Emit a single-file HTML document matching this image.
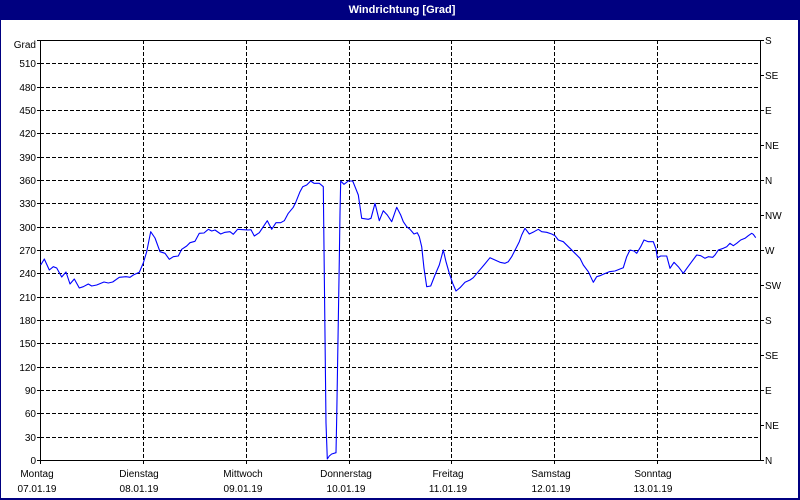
<!DOCTYPE html>
<html>
<head>
<meta charset="utf-8">
<style>
  html, body { margin:0; padding:0; width:800px; height:500px; overflow:hidden; background:#000080; }
  svg { display:block; }
  text { font-family: "Liberation Sans", "DejaVu Sans", sans-serif; font-size:10px; fill:#000; }
</style>
</head>
<body>
<svg width="800" height="500" viewBox="0 0 800 500" xmlns="http://www.w3.org/2000/svg">
  <rect x="0" y="0" width="800" height="500" fill="#000080"/>
  <rect x="1" y="20" width="797" height="478" fill="#ffffff"/>
  <text x="402" y="13" text-anchor="middle" style="font-size:11px;font-weight:bold;fill:#fff">Windrichtung [Grad]</text>

  <!-- horizontal grid -->
  <g stroke="#000" stroke-width="1" stroke-dasharray="4 2" shape-rendering="crispEdges">
    <line x1="40" y1="437.5" x2="760" y2="437.5"/>
    <line x1="40" y1="413.5" x2="760" y2="413.5"/>
    <line x1="40" y1="390.5" x2="760" y2="390.5"/>
    <line x1="40" y1="367.5" x2="760" y2="367.5"/>
    <line x1="40" y1="343.5" x2="760" y2="343.5"/>
    <line x1="40" y1="320.5" x2="760" y2="320.5"/>
    <line x1="40" y1="297.5" x2="760" y2="297.5"/>
    <line x1="40" y1="273.5" x2="760" y2="273.5"/>
    <line x1="40" y1="250.5" x2="760" y2="250.5"/>
    <line x1="40" y1="227.5" x2="760" y2="227.5"/>
    <line x1="40" y1="203.5" x2="760" y2="203.5"/>
    <line x1="40" y1="180.5" x2="760" y2="180.5"/>
    <line x1="40" y1="157.5" x2="760" y2="157.5"/>
    <line x1="40" y1="133.5" x2="760" y2="133.5"/>
    <line x1="40" y1="110.5" x2="760" y2="110.5"/>
    <line x1="40" y1="87.5" x2="760" y2="87.5"/>
    <line x1="40" y1="63.5" x2="760" y2="63.5"/>
  </g>
  <!-- vertical grid -->
  <g stroke="#000" stroke-width="1" stroke-dasharray="4 2" shape-rendering="crispEdges">
    <line x1="143.5" y1="40" x2="143.5" y2="460"/>
    <line x1="246.5" y1="40" x2="246.5" y2="460"/>
    <line x1="349.5" y1="40" x2="349.5" y2="460"/>
    <line x1="451.5" y1="40" x2="451.5" y2="460"/>
    <line x1="554.5" y1="40" x2="554.5" y2="460"/>
    <line x1="657.5" y1="40" x2="657.5" y2="460"/>
  </g>

  <!-- frame -->
  <rect x="40.5" y="40.5" width="720" height="420" fill="none" stroke="#000" stroke-width="1" shape-rendering="crispEdges"/>

  <!-- ticks -->
  <g stroke="#000" stroke-width="1" shape-rendering="crispEdges">
    <line x1="37" y1="460.5" x2="40" y2="460.5"/>
    <line x1="37" y1="437.5" x2="40" y2="437.5"/>
    <line x1="37" y1="413.5" x2="40" y2="413.5"/>
    <line x1="37" y1="390.5" x2="40" y2="390.5"/>
    <line x1="37" y1="367.5" x2="40" y2="367.5"/>
    <line x1="37" y1="343.5" x2="40" y2="343.5"/>
    <line x1="37" y1="320.5" x2="40" y2="320.5"/>
    <line x1="37" y1="297.5" x2="40" y2="297.5"/>
    <line x1="37" y1="273.5" x2="40" y2="273.5"/>
    <line x1="37" y1="250.5" x2="40" y2="250.5"/>
    <line x1="37" y1="227.5" x2="40" y2="227.5"/>
    <line x1="37" y1="203.5" x2="40" y2="203.5"/>
    <line x1="37" y1="180.5" x2="40" y2="180.5"/>
    <line x1="37" y1="157.5" x2="40" y2="157.5"/>
    <line x1="37" y1="133.5" x2="40" y2="133.5"/>
    <line x1="37" y1="110.5" x2="40" y2="110.5"/>
    <line x1="37" y1="87.5" x2="40" y2="87.5"/>
    <line x1="37" y1="63.5" x2="40" y2="63.5"/>
    <line x1="37" y1="40.5" x2="40" y2="40.5"/>

    <line x1="761" y1="40.5" x2="764" y2="40.5"/>
    <line x1="761" y1="75.5" x2="764" y2="75.5"/>
    <line x1="761" y1="110.5" x2="764" y2="110.5"/>
    <line x1="761" y1="145.5" x2="764" y2="145.5"/>
    <line x1="761" y1="180.5" x2="764" y2="180.5"/>
    <line x1="761" y1="215.5" x2="764" y2="215.5"/>
    <line x1="761" y1="250.5" x2="764" y2="250.5"/>
    <line x1="761" y1="285.5" x2="764" y2="285.5"/>
    <line x1="761" y1="320.5" x2="764" y2="320.5"/>
    <line x1="761" y1="355.5" x2="764" y2="355.5"/>
    <line x1="761" y1="390.5" x2="764" y2="390.5"/>
    <line x1="761" y1="425.5" x2="764" y2="425.5"/>
    <line x1="761" y1="460.5" x2="764" y2="460.5"/>

    <line x1="40.5" y1="461" x2="40.5" y2="464"/>
    <line x1="143.5" y1="461" x2="143.5" y2="464"/>
    <line x1="246.5" y1="461" x2="246.5" y2="464"/>
    <line x1="349.5" y1="461" x2="349.5" y2="464"/>
    <line x1="451.5" y1="461" x2="451.5" y2="464"/>
    <line x1="554.5" y1="461" x2="554.5" y2="464"/>
    <line x1="657.5" y1="461" x2="657.5" y2="464"/>
  </g>

  <!-- left labels -->
  <g text-anchor="end">
    <text x="36" y="48">Grad</text>
    <text x="36" y="67">510</text>
    <text x="36" y="91">480</text>
    <text x="36" y="114">450</text>
    <text x="36" y="137">420</text>
    <text x="36" y="161">390</text>
    <text x="36" y="184">360</text>
    <text x="36" y="207">330</text>
    <text x="36" y="231">300</text>
    <text x="36" y="254">270</text>
    <text x="36" y="277">240</text>
    <text x="36" y="301">210</text>
    <text x="36" y="324">180</text>
    <text x="36" y="347">150</text>
    <text x="36" y="371">120</text>
    <text x="36" y="394">90</text>
    <text x="36" y="417">60</text>
    <text x="36" y="441">30</text>
    <text x="36" y="464">0</text>
  </g>

  <!-- right labels -->
  <g>
    <text x="765" y="44">S</text>
    <text x="765" y="79">SE</text>
    <text x="765" y="114">E</text>
    <text x="765" y="149">NE</text>
    <text x="765" y="184">N</text>
    <text x="765" y="219">NW</text>
    <text x="765" y="254">W</text>
    <text x="765" y="289">SW</text>
    <text x="765" y="324">S</text>
    <text x="765" y="359">SE</text>
    <text x="765" y="394">E</text>
    <text x="765" y="429">NE</text>
    <text x="765" y="464">N</text>
  </g>

  <!-- bottom labels -->
  <g text-anchor="middle">
    <text x="37" y="477">Montag</text>
    <text x="37" y="492">07.01.19</text>
    <text x="139" y="477">Dienstag</text>
    <text x="139" y="492">08.01.19</text>
    <text x="243" y="477">Mittwoch</text>
    <text x="243" y="492">09.01.19</text>
    <text x="346" y="477">Donnerstag</text>
    <text x="346" y="492">10.01.19</text>
    <text x="448" y="477">Freitag</text>
    <text x="448" y="492">11.01.19</text>
    <text x="551" y="477">Samstag</text>
    <text x="551" y="492">12.01.19</text>
    <text x="653" y="477">Sonntag</text>
    <text x="653" y="492">13.01.19</text>
  </g>

  <!-- data -->
  <polyline fill="none" stroke="#0000ff" stroke-width="1.1" stroke-linejoin="round" points="
40.7,265 44.3,259 49.3,270 53.3,266.7 56.7,268 61.7,277 66,272 70,284 74.3,279 79.3,288 83.3,286.7 88.3,284 91.7,286 96.7,285 104,282 108.3,283 112.7,282 119.3,277.3 126,276.7 130,277.3 133.3,275 139.3,272.3 143.3,263 146.7,251.7 150.7,231.7 155,238 160,251.7 165,253.3 169.3,259.3 173.3,256.7 178.3,256 181.7,249.3 186.7,246 190,242.7 195,241.3 199.3,233.3 204,233 208.3,229.3 211.7,231 215,230 220.7,234 225,232.3 230,231.7 233.3,234.3 237.7,229.3 243.3,229.7 248.3,230 251,229.7 254.3,236 259.3,232.7 263.3,226.7 267.3,220.7 271.7,229.3 276,222.7 280.7,222.7 284.3,220.7 288.3,213.3 293.3,207.3 296,201.7 300,191.7 302.7,186.7 306.7,185 310.7,181 314,183.3 319.3,183.3 323.3,186.7 326,423 327.3,459 329.3,456 331.7,454 336,452.7 336.7,418 339.3,260 340,213 340.7,181 344,184.3 348.3,181 352.7,181 355,186.7 358.3,195 360,206.7 361.7,218.3 368.3,219.3 371,218.3 375,203.3 379.3,220.7 383.3,210.7 387.3,215 391.7,221.7 396.7,207.3 400.7,215 403.3,221.7 406.7,226.7 410,229.3 414,234 417.3,232.7 419.3,236.7 421.7,246.7 424,268.3 426.7,286.7 430.7,286 435,275 439.3,265 443.3,250 446,261.7 449.3,273.3 452.7,283.3 456,291 460,287.7 465,282.3 470,280 473.3,277.7 478.3,271.7 484,265 490,257.7 495,260 500,262.3 505,263.3 508.3,261.7 511.7,256.7 516,248.3 519.3,241.7 521.7,235 525,228.3 529.3,234 534,231.7 538.3,229.3 541.7,231.7 546.7,232.3 551.7,234 555,235.7 558.3,240 563.3,241.7 570,248.3 575,253.3 580,258.3 583.3,265 588.3,271.7 593.3,282.3 596.7,276.7 600,275.7 603.3,274.3 609.3,271.7 615,271 620,269 623.3,267.7 626.7,256.7 630,250 634,251 636.7,253.3 640.7,246.7 644,240 648.3,241.7 653.3,241.7 656,249 657.3,257.7 660.7,256 666.7,256 670,268.3 674,262.3 678.3,266.7 683.3,273.3 687.3,267.7 691.7,261.7 696.7,255 700.7,255.7 705,258.3 708.3,256.7 712.7,257.3 715,255 718.3,250 723.3,248.3 726.7,246.7 730,243.3 733.3,245.7 736.7,243.3 740.7,240 745,238.3 748.3,235.7 751.7,233.3 753.3,234.3 755.7,237.7"/>
</svg>
</body>
</html>
